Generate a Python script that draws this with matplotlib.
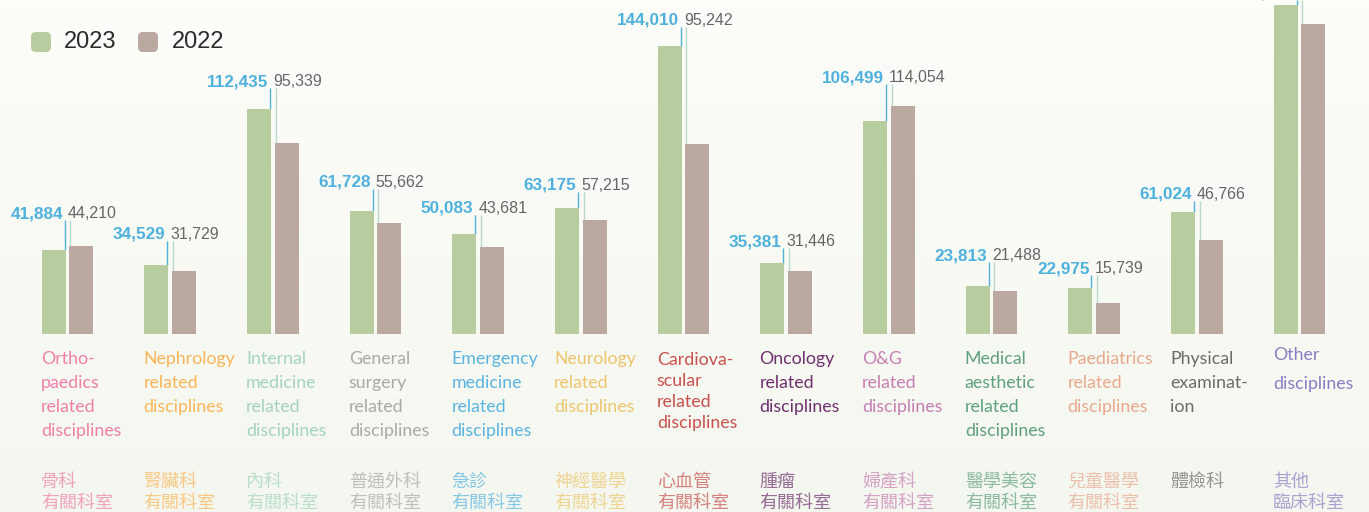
import matplotlib
matplotlib.use("Agg")
import matplotlib.pyplot as plt
import numpy as np
from matplotlib.patches import FancyBboxPatch
from matplotlib.colors import to_rgb

# ---------------- data ----------------
categories_en = [
    "Ortho-\npaedics\nrelated\ndisciplines",
    "Nephrology\nrelated\ndisciplines",
    "Internal\nmedicine\nrelated\ndisciplines",
    "General\nsurgery\nrelated\ndisciplines",
    "Emergency\nmedicine\nrelated\ndisciplines",
    "Neurology\nrelated\ndisciplines",
    "Cardiova-\nscular\nrelated\ndisciplines",
    "Oncology\nrelated\ndisciplines",
    "O&G\nrelated\ndisciplines",
    "Medical\naesthetic\nrelated\ndisciplines",
    "Paediatrics\nrelated\ndisciplines",
    "Physical\nexaminat-\nion",
    "Other\ndisciplines",
]
categories_zh = [
    "骨科\n有關科室", "腎臟科\n有關科室", "內科\n有關科室", "普通外科\n有關科室",
    "急診\n有關科室", "神經醫學\n有關科室", "心血管\n有關科室", "腫瘤\n有關科室",
    "婦產科\n有關科室", "醫學美容\n有關科室", "兒童醫學\n有關科室", "體檢科",
    "其他\n臨床科室",
]
values_2023 = [41884, 34529, 112435, 61728, 50083, 63175, 144010, 35381,
               106499, 23813, 22975, 61024, 164500]
values_2022 = [44210, 31729, 95339, 55662, 43681, 57215, 95242, 31446,
               114054, 21488, 15739, 46766, 155000]
series_labels = ["2023", "2022"]

# ---------------- style ----------------
cat_colors = ["#ef7fa9", "#fbb558", "#a4d4bd", "#a9a9a9", "#5ab4df", "#edc56c",
              "#c8504e", "#6e306f", "#c67eb3", "#5f9f80", "#e8a88e", "#6b6b6b",
              "#8a7dc4"]
green = "#b7cc9f"
brown = "#bba8a1"
blue_lbl = "#4fb1dd"
gray_lbl = "#666666"
light_line = "#b8d8d0"

# layout (pixels)
W, H = 1369, 512
BASE = 334          # baseline y (px from top)
U = 500.0           # value units per pixel
X0 = 67.5           # first group center px
STEP = 102.67       # group spacing px
BAR_W = 24
OFF = 13.75
label_lift = [38, 32, 29, 30, 27, 24, 27, 23, 45, 32, 21, 19, 13]  # px above 2023 bar
en_first = [364] * 13
en_space = [24] * 13
en_first[6], en_space[6] = 365, 21
en_first[12], en_space[12] = 360, 29
zh_first, zh_space = 487, 21

PX = 1.0 / STEP


def ypx(y):
    return (BASE - y) * U


fig = plt.figure(figsize=(W / 100, H / 100), dpi=100)

# background gradient
bg = fig.add_axes([0, 0, 1, 1])
top_c = np.array(to_rgb("#fdfdf9"))
bot_c = np.array(to_rgb("#f4f7ef"))
t = np.linspace(0, 1, 256)[:, None]
grad = top_c[None, :] * (1 - t) + bot_c[None, :] * t
bg.imshow(grad[:, None, :], aspect="auto", extent=[0, 1, 0, 1], origin="upper")
bg.set_axis_off()

ax = fig.add_axes([0, 0, 1, 1])
ax.set_xlim((0 - X0) * PX, (W - X0) * PX)
ax.set_ylim(ypx(H), ypx(0))
ax.set_axis_off()
ax.patch.set_alpha(0)

n = len(values_2023)
x = np.arange(n) * 1.0
w = BAR_W * PX
off = OFF * PX
ax.bar(x - off, values_2023, width=w, color=green, zorder=2)
ax.bar(x + off, values_2022, width=w, color=brown, zorder=2)

for i in range(n):
    v23, v22 = values_2023[i], values_2022[i]
    yc = v23 + label_lift[i] * U
    line_top = yc - 8 * U
    xb = x[i] - off + w / 2 - 1 * PX
    xl = x[i] + off - w / 2 + 1 * PX
    ax.plot([xb, xb], [v23, line_top], color=blue_lbl, lw=1.0, zorder=1,
            solid_capstyle="butt")
    ax.plot([xl, xl], [v22, line_top], color=light_line, lw=1.0, zorder=1,
            solid_capstyle="butt")
    ax.text(x[i] - off + w / 2 - 3 * PX, yc - 6 * U, f"{v23:,}", ha="right",
            va="baseline", fontsize=12.3, fontweight="bold", color=blue_lbl,
            family="Liberation Sans")
    ax.text(x[i] + off - w / 2 - 1.5 * PX, yc - 6 * U, f"{v22:,}", ha="left",
            va="baseline", fontsize=11.5, color=gray_lbl,
            family="Liberation Sans")

    xl_text = x[i] - off - w / 2 - 1 * PX
    for k, line in enumerate(categories_en[i].split("\n")):
        ax.text(xl_text, ypx(en_first[i] + k * en_space[i]), line, ha="left",
                va="baseline", fontsize=12.8, color=cat_colors[i],
                family="Lato")
    for k, line in enumerate(categories_zh[i].split("\n")):
        ax.text(xl_text, ypx(zh_first + k * zh_space), line, ha="left",
                va="baseline", fontsize=13.0, color=cat_colors[i], alpha=0.7,
                family=["Noto Sans CJK TC", "DejaVu Sans"])

# legend (pixel overlay)
ov = fig.add_axes([0, 0, 1, 1])
ov.set_xlim(0, W)
ov.set_ylim(H, 0)
ov.set_axis_off()
ov.patch.set_alpha(0)
for (sx, tx), col, lab in zip([(31, 64), (138, 172)], [green, brown], series_labels):
    ov.add_patch(FancyBboxPatch((sx + 3, 35), 14, 14,
                                boxstyle="round,pad=3,rounding_size=5",
                                fc=col, ec="none"))
    ov.text(tx, 42, lab, ha="left", va="center", fontsize=17,
            color="#2b2b2b", family="Liberation Sans")

fig.savefig("out.png", dpi=100)
